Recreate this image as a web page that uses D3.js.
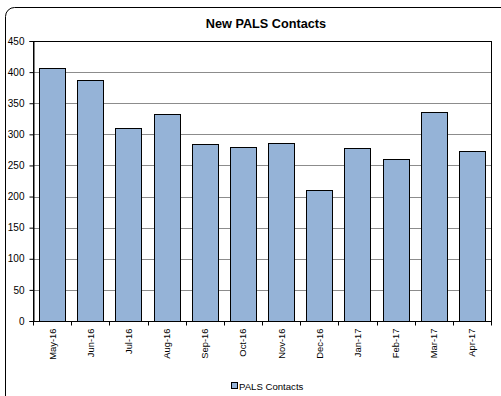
<!DOCTYPE html>
<html>
<head>
<meta charset="utf-8">
<script src="https://cdn.jsdelivr.net/npm/d3@7/dist/d3.min.js"></script>
<style>
  html, body { margin: 0; padding: 0; background: #fff; }
  svg { display: block; font-family: "Liberation Sans", Arial, sans-serif; }
</style>
</head>
<body>
<svg id="chart" width="501" height="396"></svg>
<script>
// Monthly new PALS contacts
const months = ["May-16", "Jun-16", "Jul-16", "Aug-16", "Sep-16", "Oct-16",
                "Nov-16", "Dec-16", "Jan-17", "Feb-17", "Mar-17", "Apr-17"];
const contacts = [407, 387, 310, 333, 284, 279, 286, 210, 278, 260, 336, 273];
const yTicks = [0, 50, 100, 150, 200, 250, 300, 350, 400, 450];
const seriesName = "PALS Contacts";
const chartTitle = "New PALS Contacts";

const svg = d3.select("#chart");
const W = 501, H = 396;
const plot = { left: 33, top: 41, right: 491, bottom: 321 };

// Outer chart frame with a rounded corner, running past the window edges
svg.append("rect")
  .attr("x", 5.5).attr("y", 7.5)
  .attr("width", W + 20).attr("height", H + 20)
  .attr("rx", 9)
  .attr("fill", "#fff").attr("stroke", "#000").attr("stroke-width", 1);

svg.append("text")
  .attr("x", 266).attr("y", 28)
  .attr("text-anchor", "middle")
  .attr("font-size", 12.7).attr("font-weight", "bold")
  .text(chartTitle);

const x = d3.scaleBand()
  .domain(months)
  .range([plot.left, plot.right])
  .paddingInner(0.32).paddingOuter(0.16);

const y = d3.scaleLinear()
  .domain([0, 450])
  .range([plot.bottom, plot.top]);

// Horizontal gridlines
svg.append("g")
  .selectAll("line")
  .data(yTicks.filter(d => d > 0 && d < 450))
  .join("line")
  .attr("x1", plot.left).attr("x2", plot.right)
  .attr("y1", d => Math.round(y(d)) + 0.5).attr("y2", d => Math.round(y(d)) + 0.5)
  .attr("stroke", "#8c8c8c").attr("stroke-width", 1);

// Bars
svg.append("g")
  .selectAll("rect")
  .data(months.map((m, i) => ({ m, v: contacts[i] })))
  .join("rect")
  .attr("x", d => Math.round(x(d.m)) + 0.5)
  .attr("y", d => Math.round(y(d.v)) + 0.5)
  .attr("width", Math.round(x.bandwidth()))
  .attr("height", d => Math.round(y(0)) - Math.round(y(d.v)))
  .attr("fill", "#95b3d7")
  .attr("stroke", "#000").attr("stroke-width", 1);

// Plot area border
svg.append("rect")
  .attr("x", plot.left + 0.5).attr("y", plot.top + 0.5)
  .attr("width", plot.right - plot.left).attr("height", plot.bottom - plot.top)
  .attr("fill", "none").attr("stroke", "#000").attr("stroke-width", 1);

// Y axis
const yAxis = svg.append("g")
  .attr("transform", `translate(${plot.left + 0.5},0)`)
  .call(d3.axisLeft(y).tickValues(yTicks).tickSize(4).tickPadding(5));
yAxis.select(".domain").attr("stroke", "#000");
yAxis.selectAll(".tick line").attr("stroke", "#000");
yAxis.selectAll("text").attr("font-size", 10).attr("fill", "#000")
  .attr("font-family", "Liberation Sans, Arial, sans-serif");

// X axis: ticks at category boundaries, labels rotated
const xAxisG = svg.append("g")
  .attr("transform", `translate(0,${plot.bottom + 0.5})`);
xAxisG.append("line")
  .attr("x1", plot.left).attr("x2", plot.right + 1)
  .attr("stroke", "#000");
const step = x.step();
xAxisG.selectAll("line.tk")
  .data(d3.range(months.length + 1))
  .join("line")
  .attr("class", "tk")
  .attr("x1", i => Math.round(plot.left + i * step) + 0.5)
  .attr("x2", i => Math.round(plot.left + i * step) + 0.5)
  .attr("y1", 0).attr("y2", 4)
  .attr("stroke", "#000");
xAxisG.selectAll("text")
  .data(months)
  .join("text")
  .attr("transform", d => `translate(${x(d) + x.bandwidth() / 2 + 3.5},7) rotate(-90)`)
  .attr("text-anchor", "end")
  .attr("font-size", 9.4)
  .text(d => d);

// Legend
const lg = svg.append("g").attr("transform", "translate(231,382)");
lg.append("rect")
  .attr("x", 0.5).attr("y", 0.5).attr("width", 6).attr("height", 6)
  .attr("fill", "#95b3d7").attr("stroke", "#000");
lg.append("text")
  .attr("x", 8).attr("y", 7.5)
  .attr("font-size", 9.6)
  .text(seriesName);
</script>
</body>
</html>
